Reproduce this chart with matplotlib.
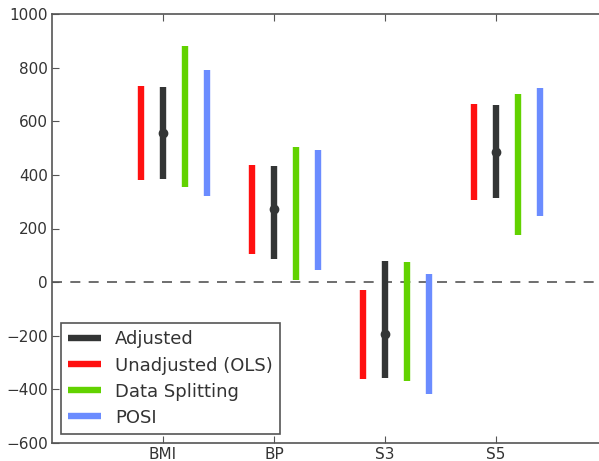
import numpy as np
import matplotlib.pyplot as plt

variables = ['BMI', 'BP', 'S3', 'S5']

adj_low = [384, 88, -356, 312]
adj_high = [727, 433, 79, 659]
adj_est = [556, 271, -194, 485]

ols_low = [380, 104, -360, 308]
ols_high = [731, 437, -29, 663]

split_low = [353, 9, -369, 174]
split_high = [880, 504, 76, 703]

posi_low = [320, 46, -417, 246]
posi_high = [792, 493, 29, 724]

dark = '#333535'
red = '#ff1010'
green = '#62d200'
blue = '#6b8cff'
lw = 4.6

fig = plt.figure(figsize=(5.99, 4.61), dpi=100)
ax = fig.add_axes([52 / 599, 18 / 461, 555 / 599, 429 / 461])

x = np.arange(1, len(variables) + 1)
ax.axhline(0, color='#555555', ls='--', lw=1.2, dashes=(6, 5), zorder=1)

ax.vlines(x - 0.2, ols_low, ols_high, color=red, lw=lw, label='Unadjusted (OLS)')
ax.vlines(x, adj_low, adj_high, color=dark, lw=lw, label='Adjusted')
ax.plot(x, adj_est, 'o', color=dark, ms=6, zorder=4)
ax.vlines(x + 0.2, split_low, split_high, color=green, lw=lw, label='Data Splitting')
ax.vlines(x + 0.4, posi_low, posi_high, color=blue, lw=lw, label='POSI')

ax.set_xlim(0, 5)
ax.set_ylim(-600, 1000)
ax.set_xticks(x)
ax.set_xticklabels(variables)
ax.set_yticks(np.arange(-600, 1001, 200))
ax.tick_params(direction='in', top=True, right=True, length=5, colors='#555555',
               labelcolor='#333333', labelsize=11, pad=3)
for s in ax.spines.values():
    s.set_color('#555555')
    s.set_linewidth(1.2)

handles, labels = ax.get_legend_handles_labels()
order = [1, 0, 2, 3]
leg = ax.legend([handles[i] for i in order], [labels[i] for i in order],
                loc='lower left', fontsize=13, fancybox=False, framealpha=1,
                borderaxespad=0.5, handlelength=1.8, labelcolor='#333333',
                labelspacing=0.45)
leg.get_frame().set_edgecolor('#555555')
leg.get_frame().set_linewidth(1.2)

fig.savefig('out.png', dpi=100)
